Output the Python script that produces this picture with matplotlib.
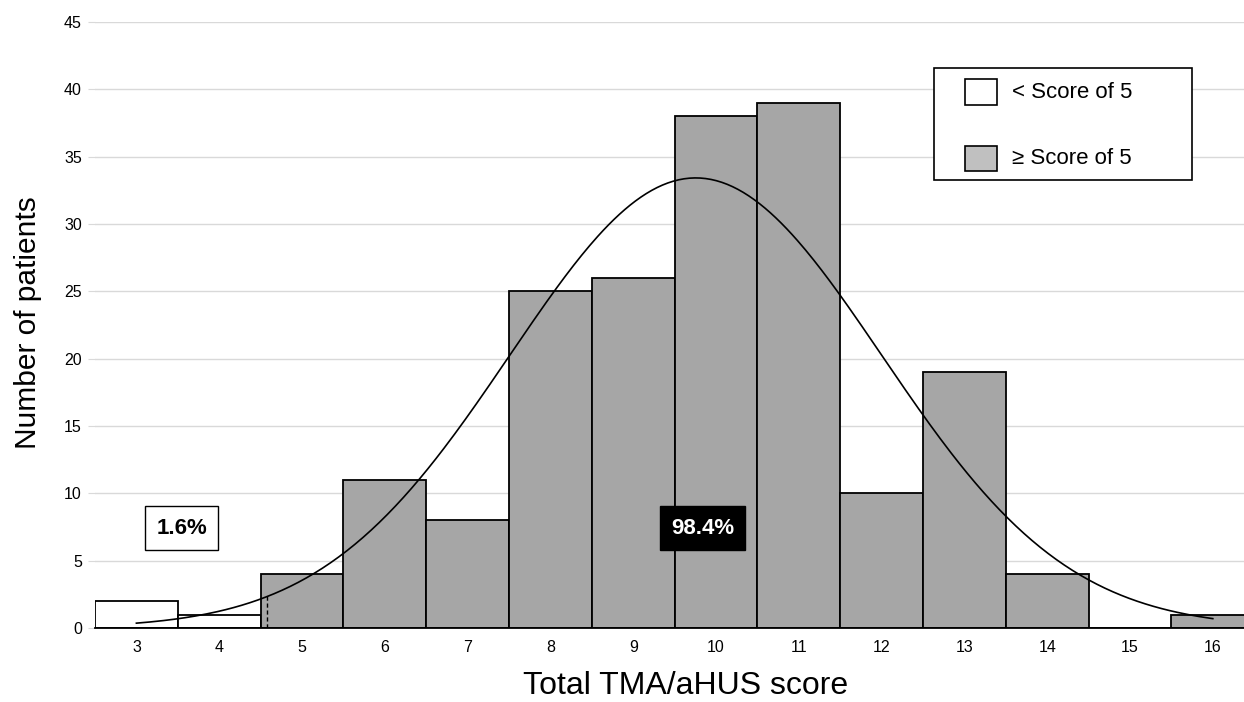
import numpy as np
import matplotlib
matplotlib.use("Agg")
import matplotlib.pyplot as plt
from matplotlib.patches import Rectangle

scores = [3, 4, 5, 6, 7, 8, 9, 10, 11, 12, 13, 14, 15, 16]
counts = [2, 1, 4, 11, 8, 25, 26, 38, 39, 10, 19, 4, 0, 1]
cutoff = 5
low_label = "< Score of 5"
high_label = "\u2265 Score of 5"
pct_low = "1.6%"
pct_high = "98.4%"

plt.rcParams['font.family'] = ['Liberation Sans', 'DejaVu Sans']

W, H = 1244, 702
fig = plt.figure(figsize=(W / 100, H / 100), dpi=100)
ax = fig.add_axes([95 / W, 74 / H, 14 * 82.8 / W, 606 / H])

x = np.array(scores, dtype=float)
c = np.array(counts, dtype=float)
colors = ['white' if s < cutoff else '#a6a6a6' for s in scores]
ax.bar(x, c, width=1.0, color=colors, edgecolor='black', linewidth=1.3, zorder=3)

# normal fit computed from the data
n = c.sum()
mu = (x * c).sum() / n
sd = np.sqrt(((x - mu) ** 2 * c).sum() / n)
xs = np.linspace(scores[0], scores[-1], 400)
ys = n / (sd * np.sqrt(2 * np.pi)) * np.exp(-0.5 * ((xs - mu) / sd) ** 2)
ax.plot(xs, ys, color='black', lw=1.2, zorder=4)

xd = 4.58
yd = n / (sd * np.sqrt(2 * np.pi)) * np.exp(-0.5 * ((xd - mu) / sd) ** 2)
ax.plot([xd, xd], [0, yd], color='black', lw=1, ls=(0, (3, 2)), zorder=4)

ax.text(3.55, 7.42, pct_low, ha='center', va='center', fontsize=16, fontweight='bold',
        bbox=dict(boxstyle='square,pad=0.5', fc='white', ec='black', lw=1), zorder=5)
ax.text(9.84, 7.42, pct_high, ha='center', va='center', fontsize=16, fontweight='bold',
        color='white', bbox=dict(boxstyle='square,pad=0.5', fc='black', ec='black', lw=1), zorder=5)

ax.set_xlim(2.5, 16.5)
ax.set_ylim(0, 45)
ax.set_xticks(scores)
ax.set_yticks(np.arange(0, 46, 5))
ax.tick_params(axis='x', length=0, labelsize=11.5, pad=9)
ax.tick_params(axis='y', length=5, color='#d9d9d9', labelsize=11.5, pad=4.5)
ax.grid(axis='y', color='#d9d9d9', lw=1, zorder=0)
for s in ['top', 'right', 'left']:
    ax.spines[s].set_visible(False)
ax.spines['bottom'].set_linewidth(1.3)
ax.spines['bottom'].set_zorder(5)

fig.text(686 / W, 1 - 694 / H, "Total TMA/aHUS score", fontsize=23,
         ha='center', va='baseline')
fig.text(28 / W, 1 - 323 / H, "Number of patients", rotation=90, fontsize=21.5,
         ha='center', va='center')

# legend drawn in figure pixel space
def px(xp, yp):
    return xp / W, 1 - yp / H

tf = fig.transFigure
fx, fy = px(934, 180)
fig.patches.append(Rectangle((fx, fy), 258 / W, 112 / H, transform=tf,
                             fc='white', ec='black', lw=1.2, zorder=10))
for (yc, fc, lab) in [(92, 'white', low_label), (158, '#c0c0c0', high_label)]:
    hx, hy = px(965, yc + 12.5)
    fig.patches.append(Rectangle((hx, hy), 32 / W, 25 / H, transform=tf,
                                 fc=fc, ec='black', lw=1.2, zorder=11))
    tx, ty = px(1012, yc)
    fig.text(tx, ty, lab, fontsize=16, ha='left', va='center', zorder=12)

fig.savefig("out.png", dpi=100)
